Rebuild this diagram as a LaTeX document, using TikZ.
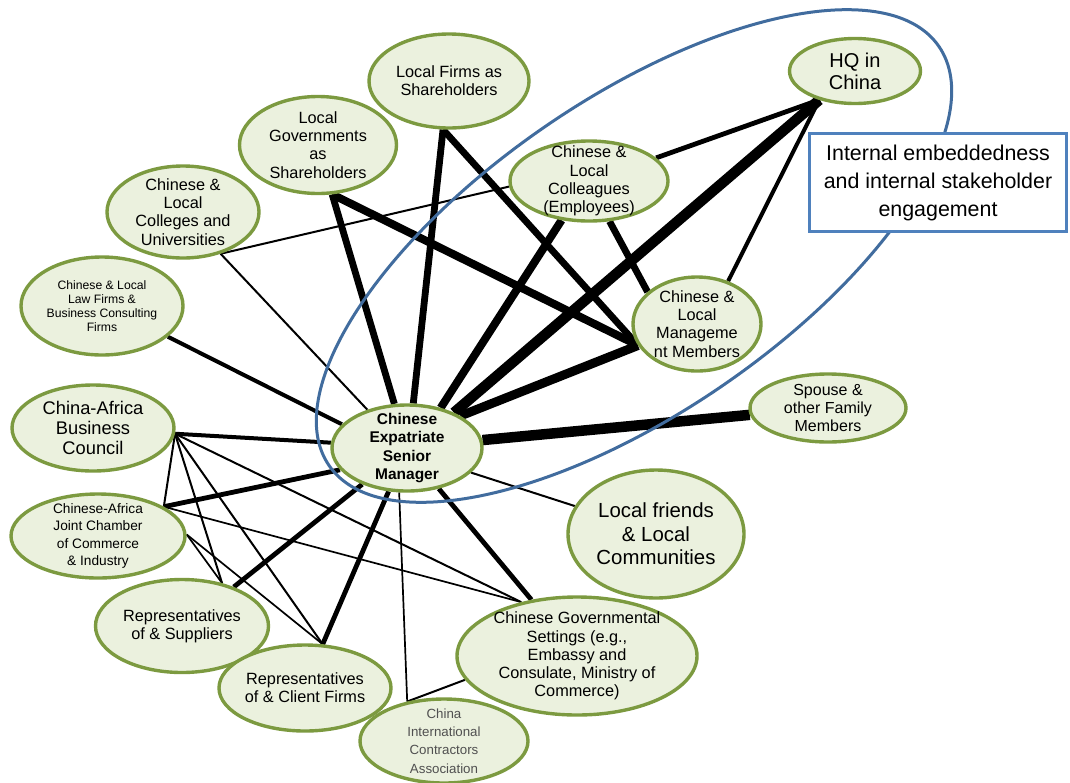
\documentclass[tikz,border=0pt]{standalone}
\usepackage{fontspec}
\setmainfont{Liberation Sans}
\usetikzlibrary{shapes.geometric,backgrounds}
\definecolor{actorgreen}{RGB}{124,154,64}
\definecolor{actorfill}{RGB}{235,241,222}
\definecolor{ringblue}{RGB}{65,108,158}
\definecolor{boxblue}{RGB}{79,129,189}
\definecolor{greytext}{RGB}{80,80,80}
\newcommand{\fsNorm}{\fontsize{16.3}{18.2}\selectfont}
\newcommand{\fsHQ}{\fontsize{20}{22.3}\selectfont}
\newcommand{\fsCABC}{\fontsize{18.3}{20.3}\selectfont}
\newcommand{\fsLF}{\fontsize{20.4}{23.5}\selectfont}
\newcommand{\fsNote}{\fontsize{21.4}{28}\selectfont}
\newcommand{\fsCore}{\fontsize{15.5}{18.3}\selectfont\bfseries}
\newcommand{\fsLaw}{\fontsize{12.2}{14}\selectfont}
\newcommand{\fsJCC}{\fontsize{13.7}{17.4}\selectfont}
\newcommand{\fsCICA}{\fontsize{13.3}{18.3}\selectfont}
\newcommand{\fsSpouse}{\fontsize{16}{17.8}\selectfont}
\begin{document}
\begin{tikzpicture}[x=1pt, y=-1pt,
  actor/.style={ellipse, draw=actorgreen, line width=3.4pt, fill=actorfill, align=center, inner xsep=0pt, inner ysep=-8pt, font=\fsNorm},
  note/.style={rectangle, draw=boxblue, line width=3.2pt, fill=white, minimum width=257pt, minimum height=98pt, align=center, font=\fsNote},
  faint/.style={line width=1.7pt},
  weak/.style={line width=2pt},
  fair/.style={line width=4pt},
  mid/.style={line width=4.8pt},
  firm/.style={line width=6.8pt},
  strong/.style={line width=8pt},
  heavy/.style={line width=9pt},
  heaviest/.style={line width=10.5pt}]
  \useasboundingbox (0,0) rectangle (1070,782);

  \node[actor, minimum width=131pt, minimum height=65pt, font=\fsHQ] (HQ) at (855,71) {HQ in\\China};
  \node[actor, minimum width=160pt, minimum height=94pt] (LFS) at (449,81) {Local Firms as\\Shareholders};
  \node[actor, minimum width=157pt, minimum height=97pt] (LGS) at (318,145) {Local\\Governments\\as\\Shareholders};
  \node[actor, minimum width=152pt, minimum height=92pt] (colleges) at (183,212) {Chinese \&\\Local\\Colleges and\\Universities};
  \node[actor, minimum width=162pt, minimum height=98pt, font=\fsLaw] (law) at (102,306) {Chinese \& Local\\Law Firms \&\\Business Consulting\\Firms};
  \node[actor, minimum width=162pt, minimum height=86pt, font=\fsCABC] (CABC) at (93,428) {China-Africa\\Business\\Council};
  \node[actor, minimum width=174pt, minimum height=84pt, font=\fsJCC] (JCC) at (98,536) {Chinese-Africa\\Joint Chamber\\of Commerce\\\& Industry};
  \node[actor, minimum width=173pt, minimum height=93pt] (suppliers) at (182,626) {Representatives\\of \& Suppliers};
  \node[actor, minimum width=172pt, minimum height=86pt] (clients) at (305,688) {Representatives\\of \& Client Firms};
  \node[actor, minimum width=168pt, minimum height=84pt, font=\fsCICA, text=greytext] (CICA) at (444,741) {China\\International\\Contractors\\Association};
  \node[actor, minimum width=240pt, minimum height=118pt] (gov) at (577,656) {Chinese Governmental\\Settings (e.g.,\\Embassy and\\Consulate, Ministry of\\Commerce)};
  \node[actor, minimum width=176pt, minimum height=128pt, font=\fsLF] (friends) at (656,534) {Local friends\\\& Local\\Communities};
  \node[actor, minimum width=156pt, minimum height=68pt, font=\fsSpouse] (family) at (828,408) {Spouse \&\\other Family\\Members};
  \node[actor, minimum width=128pt, minimum height=94pt] (mgmt) at (697,324) {Chinese \&\\Local\\Manageme\\nt Members};
  \node[actor, minimum width=158pt, minimum height=80pt] (staff) at (589,181) {Chinese \&\\Local\\Colleagues\\(Employees)};
  \node[actor, minimum width=150pt, minimum height=86pt, font=\fsCore] (CESM) at (407,448) {Chinese\\Expatriate\\Senior\\Manager};

  % ties, kept behind the ellipses
  \begin{scope}[on background layer]
    \draw[heaviest] (HQ.219) -- (CESM.37);
    \draw[mid] (HQ.219) -- (staff.19);
    \draw[fair] (HQ.219) -- (mgmt.54);
    \draw[heavy] (mgmt.200) -- (CESM.31);
    \draw[strong] (LGS.286) -- (mgmt.200);
    \draw[firm] (LFS.263) -- (mgmt.200);
    \draw[firm] (LGS.286) -- (CESM.106);
    \draw[firm] (LFS.263) -- (CESM.82);
    \draw[strong] (staff.235) -- (CESM.50);
    \draw[firm] (staff.297) -- (mgmt.147);
    \draw[weak] (colleges.312) -- (staff.184);
    \draw[weak] (colleges.312) -- (CESM.136);
    \draw[fair] (law.335) -- (CESM.160);
    \draw[fair] (CABC.356) -- (CESM.176);
    \draw[mid] (JCC.24) -- (CESM.198);
    \draw[mid] (suppliers.37) -- (CESM.219);
    \draw[mid] (clients.68) -- (CESM.247);
    \draw[faint] (CICA.133) -- (CESM.260);
    \draw[mid] (gov.129) -- (CESM.308);
    \draw[weak] (friends.161) -- (CESM.339);
    \draw[heaviest] (family.185) -- (CESM.6);
    \draw[weak] (CICA.133) -- (gov.192);
    \draw[weak] (CABC.356) -- (JCC.24);
    \draw[weak] (CABC.356) -- (suppliers.47);
    \draw[weak] (CABC.356) -- (clients.68);
    \draw[weak] (CABC.356) -- (gov.136);
    \draw[faint] (JCC.24) -- (gov.136);
    \draw[faint] (JCC.1) -- (suppliers.47);
    \draw[faint] (JCC.1) -- (clients.68);
  \end{scope}

  % internal embeddedness ring
  \draw[ringblue, line width=3pt, rotate around={34.5:(634,256)}] (634,256) ellipse [x radius=370, y radius=157];

  \node[note] (internal) at (938,182.5) {Internal embeddedness\\and internal stakeholder\\engagement};
\end{tikzpicture}
\end{document}
